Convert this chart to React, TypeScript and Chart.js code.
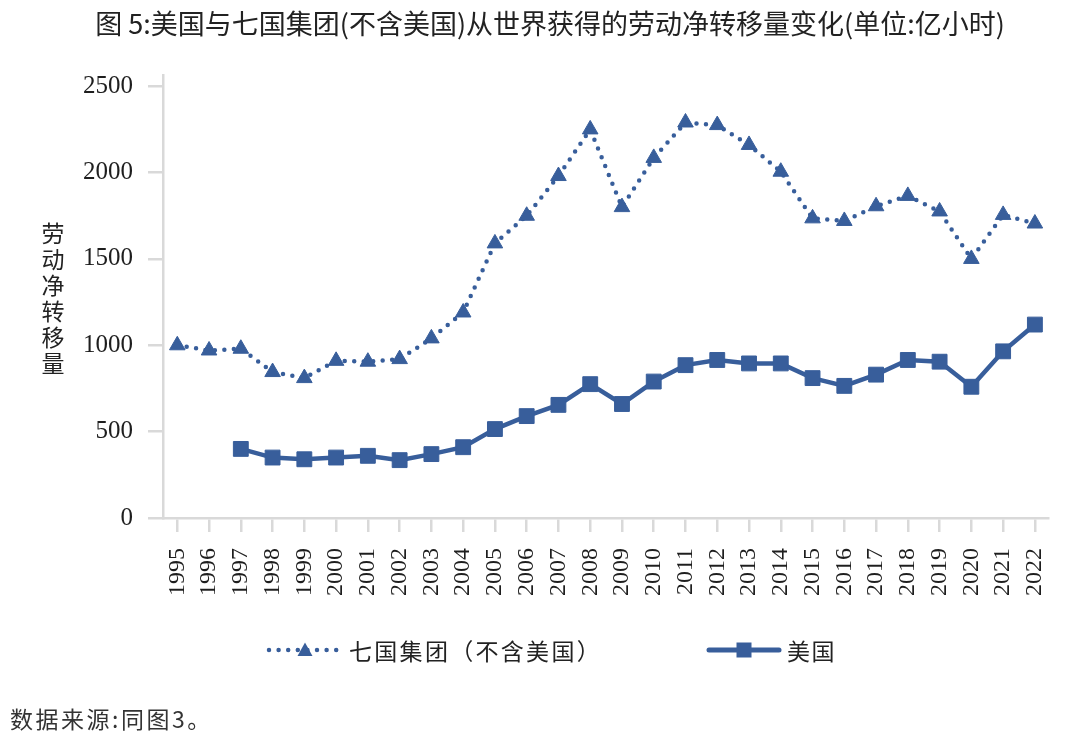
import { useEffect, useRef } from "react";
import { Chart, registerables } from "chart.js";

Chart.register(...registerables);

const years = [
	1995, 1996, 1997, 1998, 1999, 2000, 2001, 2002, 2003, 2004, 2005, 2006, 2007,
	2008, 2009, 2010, 2011, 2012, 2013, 2014, 2015, 2016, 2017, 2018, 2019, 2020,
	2021, 2022,
];
const g7Values = [
	1000, 970, 980, 845, 810, 910, 905, 920, 1040, 1190, 1590, 1750, 1980, 2250,
	1800, 2085, 2290, 2275, 2160, 2005, 1735, 1720, 1805, 1865, 1775, 1500, 1755,
	1705,
];
const usValues = [
	null, null, 400, 350, 340, 350, 360, 335, 370, 410, 515, 590, 655, 775, 660,
	790, 885, 915, 895, 895, 810, 765, 830, 915, 905, 760, 965, 1120,
];
const yTicks = [0, 500, 1000, 1500, 2000, 2500];

const g7Label = "七国集团（不含美国）";
const usLabel = "美国";

const blue = "#385e9b";
const axisGrey = "#d9d9d9";
const serif = "'Liberation Serif', 'Times New Roman', serif";
const cjk = "'Noto Sans CJK SC', 'Noto Sans', sans-serif";

const App = () => {
	const chartRef = useRef<HTMLCanvasElement | null>(null);

	useEffect(() => {
		if (!chartRef.current) return;
		const chart = new Chart(chartRef.current, {
			type: "line",
			data: {
				datasets: [
					{
						label: g7Label,
						data: years.map((x, i) => ({ x, y: g7Values[i] })),
						borderColor: blue,
						backgroundColor: blue,
						borderWidth: 4.5,
						borderDash: [0, 9.5],
						borderCapStyle: "round",
						pointStyle: "triangle",
						pointRadius: 9,
						pointBorderWidth: 1,
						pointBackgroundColor: blue,
						pointBorderColor: blue,
						tension: 0,
					},
					{
						label: usLabel,
						data: years.map((x, i) => ({ x, y: usValues[i] })),
						borderColor: blue,
						backgroundColor: blue,
						borderWidth: 4.5,
						pointStyle: "rect",
						pointRadius: 10.5,
						pointBorderWidth: 1,
						pointBackgroundColor: blue,
						pointBorderColor: blue,
						tension: 0,
					},
				],
			},
			options: {
				responsive: true,
				maintainAspectRatio: false,
				animation: false,
				layout: { padding: { left: 0, right: 20, top: 75, bottom: 118 } },
				plugins: {
					legend: { display: false },
					tooltip: { enabled: false },
				},
				scales: {
					x: {
						type: "linear",
						min: 1994.55,
						max: 2022.43,
						afterBuildTicks: (scale) => {
							scale.ticks = years.map((v) => ({ value: v }));
						},
						afterFit: (scale) => {
							scale.height = 100;
						},
						grid: {
							drawOnChartArea: false,
							drawTicks: true,
							tickLength: 14,
							color: axisGrey,
							lineWidth: 2.5,
						},
						border: { color: axisGrey, width: 2.5 },
						ticks: {
							autoSkip: false,
							minRotation: 90,
							maxRotation: 90,
							padding: 16,
							color: "#1e1e1e",
							font: { family: serif, size: 24 },
							callback: (v) => String(v),
						},
					},
					y: {
						min: 0,
						max: 2565,
						afterBuildTicks: (scale) => {
							scale.ticks = yTicks.map((v) => ({ value: v }));
						},
						afterFit: (scale) => {
							scale.width = 163;
						},
						grid: {
							drawOnChartArea: false,
							drawTicks: true,
							tickLength: 15,
							color: axisGrey,
							lineWidth: 2.5,
						},
						border: { color: axisGrey, width: 2.5 },
						ticks: {
							padding: 15,
							color: "#1e1e1e",
							font: { family: serif, size: 25 },
							callback: (v) => String(v),
						},
					},
				},
			},
		});

		return () => {
			chart.destroy();
		};
	}, []);

	return (
		<div
			style={{
				position: "absolute",
				left: 0,
				top: 0,
				width: 1080,
				height: 736,
				background: "#fff",
				overflow: "hidden",
			}}
		>
			<canvas ref={chartRef} />
			<div
				style={{
					position: "absolute",
					left: 0,
					top: 7,
					width: 1100,
					textAlign: "center",
					fontFamily: cjk,
					fontSize: 27,
					lineHeight: "32px",
					color: "#222",
				}}
			>
				图 5:美国与七国集团(不含美国)从世界获得的劳动净转移量变化(单位:亿小时)
			</div>
			<div
				style={{
					position: "absolute",
					left: 41,
					top: 222,
					writingMode: "vertical-rl",
					fontFamily: cjk,
					fontSize: 23,
					lineHeight: "23px",
					letterSpacing: 3,
					color: "#222",
				}}
			>
				劳动净转移量
			</div>
			<svg
				style={{ position: "absolute", left: 266, top: 639 }}
				width={78}
				height={22}
			>
				<line
					x1={3}
					y1={11}
					x2={75}
					y2={11}
					stroke={blue}
					strokeWidth={4.5}
					strokeLinecap="round"
					strokeDasharray="0 9.6"
				/>
				<polygon points="39,3.5 46.5,17 31.5,17" fill={blue} />
			</svg>
			<div
				style={{
					position: "absolute",
					left: 349,
					top: 636,
					height: 28,
					lineHeight: "28px",
					fontFamily: cjk,
					fontSize: 23,
					letterSpacing: 2.3,
					color: "#222",
					whiteSpace: "nowrap",
				}}
			>
				{g7Label}
			</div>
			<svg
				style={{ position: "absolute", left: 706, top: 639 }}
				width={76}
				height={22}
			>
				<line
					x1={3}
					y1={11}
					x2={73}
					y2={11}
					stroke={blue}
					strokeWidth={5}
					strokeLinecap="round"
				/>
				<rect x={30.5} y={3.5} width={15} height={15} fill={blue} />
			</svg>
			<div
				style={{
					position: "absolute",
					left: 787,
					top: 636,
					height: 28,
					lineHeight: "28px",
					fontFamily: cjk,
					fontSize: 23,
					letterSpacing: 1.5,
					color: "#222",
					whiteSpace: "nowrap",
				}}
			>
				{usLabel}
			</div>
			<div
				style={{
					position: "absolute",
					left: 10,
					top: 703,
					lineHeight: "30px",
					fontFamily: cjk,
					fontSize: 23,
					letterSpacing: 2.5,
					color: "#333",
					whiteSpace: "nowrap",
				}}
			>
				数据来源:同图3。
			</div>
		</div>
	);
};

export default App;
